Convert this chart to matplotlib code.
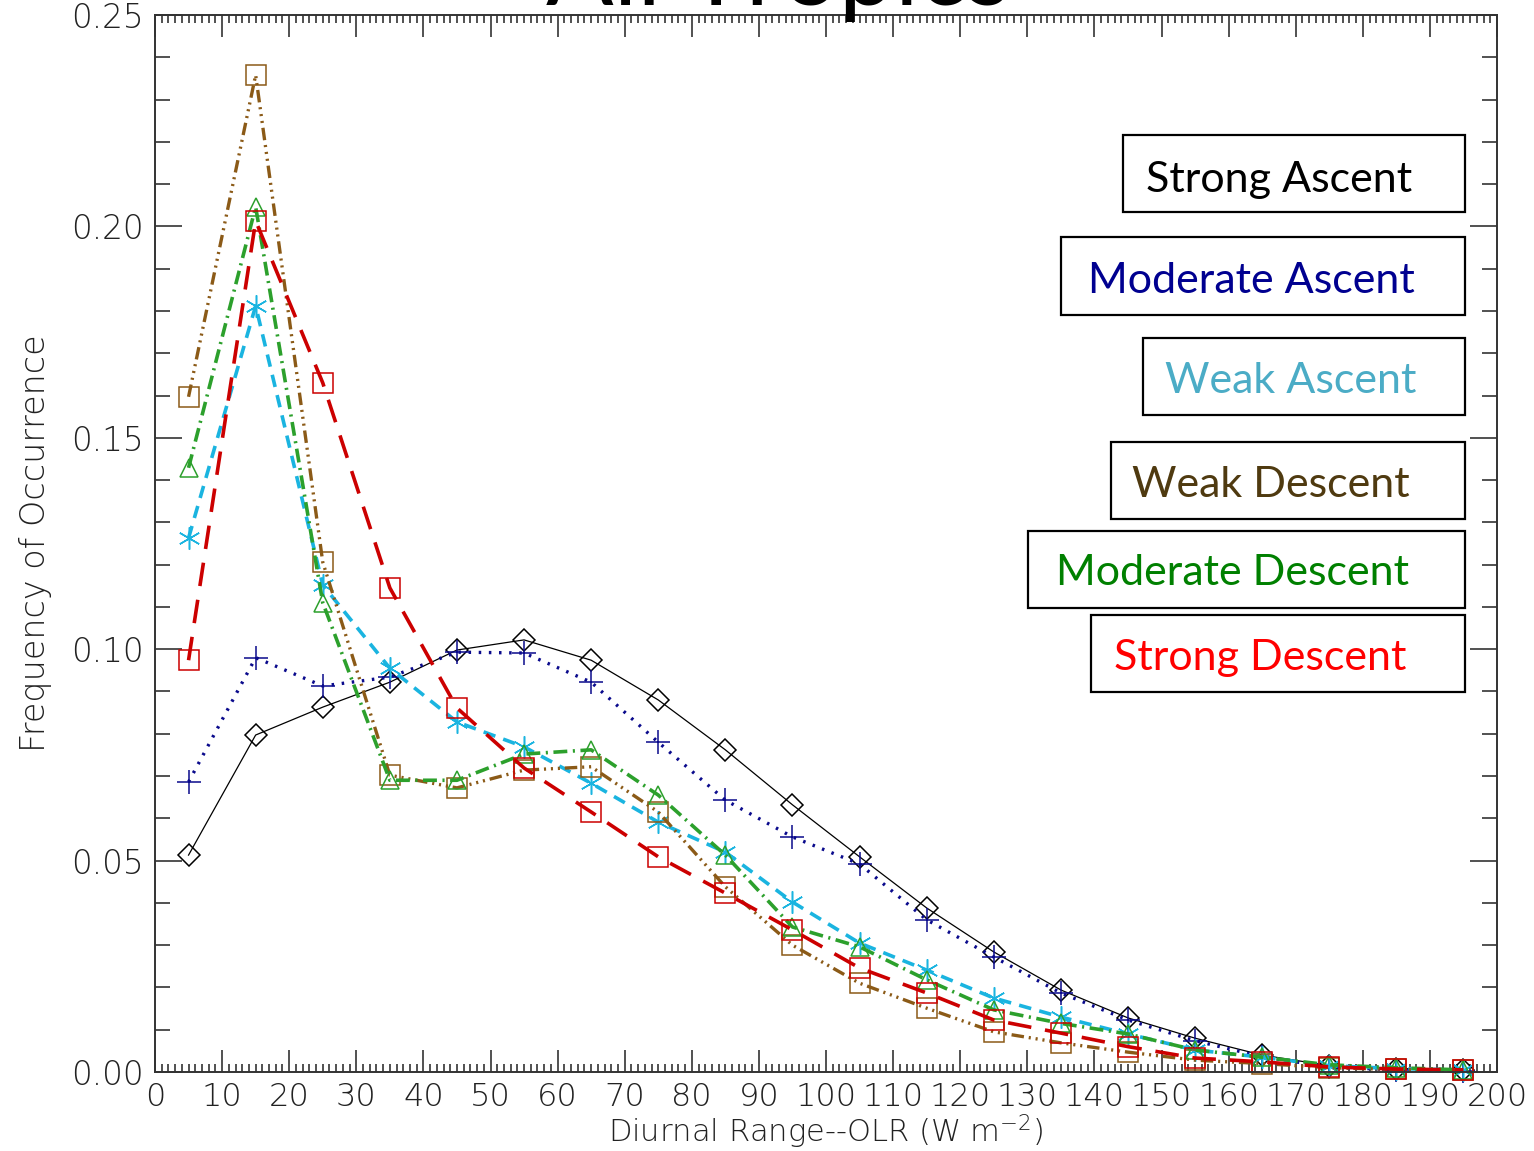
import numpy as np
import matplotlib
matplotlib.use('Agg')
import matplotlib.pyplot as plt
from matplotlib.patches import Rectangle
from matplotlib.ticker import MultipleLocator

plt.rcParams['lines.scale_dashes'] = False
plt.rcParams['mathtext.default'] = 'regular'
plt.rcParams['font.family'] = ['DejaVu Sans']

W, H = 1534, 1151

# 直方图分箱中心 (W m-2)
olr_bins = np.arange(5, 200, 10)

strong_ascent = [0.0513, 0.0797, 0.0863, 0.0922, 0.0998, 0.1022, 0.0974, 0.0880, 0.0762, 0.0632,
                 0.0509, 0.0388, 0.0284, 0.0194, 0.0128, 0.0080, 0.0040, 0.0015, 0.0008, 0.0005]
moderate_ascent = [0.0686, 0.0980, 0.0913, 0.0934, 0.0993, 0.0991, 0.0922, 0.0780, 0.0643, 0.0556,
                   0.0492, 0.0360, 0.0272, 0.0187, 0.0123, 0.0074, 0.0036, 0.0012, 0.0005, 0.0002]
weak_ascent = [0.1263, 0.1812, 0.1152, 0.0955, 0.0828, 0.0769, 0.0683, 0.0591, 0.0520, 0.0402,
               0.0305, 0.0241, 0.0175, 0.0130, 0.0090, 0.0052, 0.0035, 0.0015, 0.0008, 0.0005]
weak_descent = [0.1597, 0.2358, 0.1206, 0.0702, 0.0672, 0.0714, 0.0722, 0.0615, 0.0438, 0.0300,
                0.0210, 0.0151, 0.0095, 0.0069, 0.0047, 0.0028, 0.0020, 0.0010, 0.0006, 0.0005]
moderate_descent = [0.1429, 0.2046, 0.1110, 0.0690, 0.0690, 0.0752, 0.0762, 0.0655, 0.0513, 0.0343,
                    0.0296, 0.0218, 0.0147, 0.0115, 0.0090, 0.0052, 0.0035, 0.0017, 0.0010, 0.0005]
strong_descent = [0.0974, 0.2013, 0.1630, 0.1145, 0.0861, 0.0719, 0.0615, 0.0509, 0.0423, 0.0336,
                  0.0246, 0.0187, 0.0123, 0.0092, 0.0060, 0.0033, 0.0024, 0.0012, 0.0007, 0.0005]

regime_names = ['Strong Ascent', 'Moderate Ascent', 'Weak Ascent',
                'Weak Descent', 'Moderate Descent', 'Strong Descent']

x_ticks = list(range(0, 201, 10))
y_ticks = [0.00, 0.05, 0.10, 0.15, 0.20, 0.25]
y_tick_labels = ['0.00', '0.05', '0.10', '0.15', '0.20', '0.25']

# 线型：颜色, 虚线样式, 线宽, 标记, 标记大小
styles = [
    dict(color='black', ls='-', lw=0.9, marker='D', ms=11),
    dict(color='#0a0a8c', ls=(0, (1.8, 5.5)), lw=2.4, marker='+', ms=17),
    dict(color='#1ab4e0', ls=(0, (9, 6)), lw=2.6, marker=(6, 2, 0), ms=16),
    dict(color='#8b5a17', ls=(0, (9, 3.5, 1.5, 3.5, 1.5, 3.5, 1.5, 3.5)), lw=2.4, marker='s', ms=14),
    dict(color='#2ca02c', ls=(0, (10, 4, 1.5, 4)), lw=2.6, marker='^', ms=13),
    dict(color='#cc0000', ls=(0, (17, 10)), lw=2.6, marker='s', ms=14),
]
series = [strong_ascent, moderate_ascent, weak_ascent,
          weak_descent, moderate_descent, strong_descent]

fig = plt.figure(figsize=(W / 100, H / 100), dpi=100)
ax = fig.add_axes([155 / W, 1 - 1072 / H, (1497 - 155) / W, (1072 - 15) / H])

for vals, st in zip(series, styles):
    ax.plot(olr_bins, vals, color=st['color'], linestyle=st['ls'], linewidth=st['lw'],
            marker=st['marker'], markersize=st['ms'], markerfacecolor='none',
            markeredgecolor=st['color'], markeredgewidth=1.1, clip_on=False)

ax.set_xlim(0, 200)
ax.set_ylim(0, 0.25)
ax.set_xticks(x_ticks)
ax.set_xticklabels([str(t) for t in x_ticks])
ax.set_yticks(y_ticks)
ax.set_yticklabels(y_tick_labels)
ax.xaxis.set_minor_locator(MultipleLocator(1))
ax.yaxis.set_minor_locator(MultipleLocator(0.01))

ax.tick_params(which='both', direction='in', top=True, right=True, color='#222222', width=1.1)
ax.tick_params(axis='x', which='major', length=16, pad=7, labelsize=23, labelcolor='#222222')
ax.tick_params(axis='x', which='minor', length=6)
ax.tick_params(axis='y', which='major', length=19.5, pad=8, labelsize=23.5, labelcolor='#222222')
ax.tick_params(axis='y', which='minor', length=11)
for lab in ax.get_xticklabels() + ax.get_yticklabels():
    lab.set_fontweight('light')
for sp in ax.spines.values():
    sp.set_linewidth(1.4)
    sp.set_color('#333333')

ax.set_xlabel('Diurnal Range--OLR (W m$^{-2}$)', fontsize=22, color='#222222', fontweight='light')
ax.xaxis.set_label_coords(0.5, -0.038)
ax.set_ylabel('Frequency of Occurrence', fontsize=24, color='#222222', fontweight='light')
ax.yaxis.set_label_coords(-0.077, 0.5)

# 标题（大号字体，位于图顶部）
fig.text(778 / W, 1 - 5 / H, 'All Tropics', fontsize=72, family='Lato',
         ha='center', va='baseline', color='black')

# 右侧图例文本框
legend_colors = ['black', '#000090', '#4bacc6', '#4f3a10', '#008000', '#ff0000']
boxes = [(1123, 135, 212), (1061, 237, 315), (1143, 338, 415),
         (1111, 442, 519), (1028, 531, 608), (1091, 615, 692)]
text_pos = [(1279, 192), (1251, 293), (1291, 393), (1271, 497), (1232, 585), (1260, 670)]
for name, col, (x0, y0, y1), (tx, ty) in zip(regime_names, legend_colors, boxes, text_pos):
    fig.add_artist(Rectangle((x0 / W, 1 - y1 / H), (1465 - x0) / W, (y1 - y0) / H,
                             transform=fig.transFigure, fill=False, edgecolor='black',
                             linewidth=1.6))
    fig.text(tx / W, 1 - ty / H, name, fontsize=31, family='Lato', color=col,
             ha='center', va='baseline')

fig.savefig('out.png', dpi=100)
